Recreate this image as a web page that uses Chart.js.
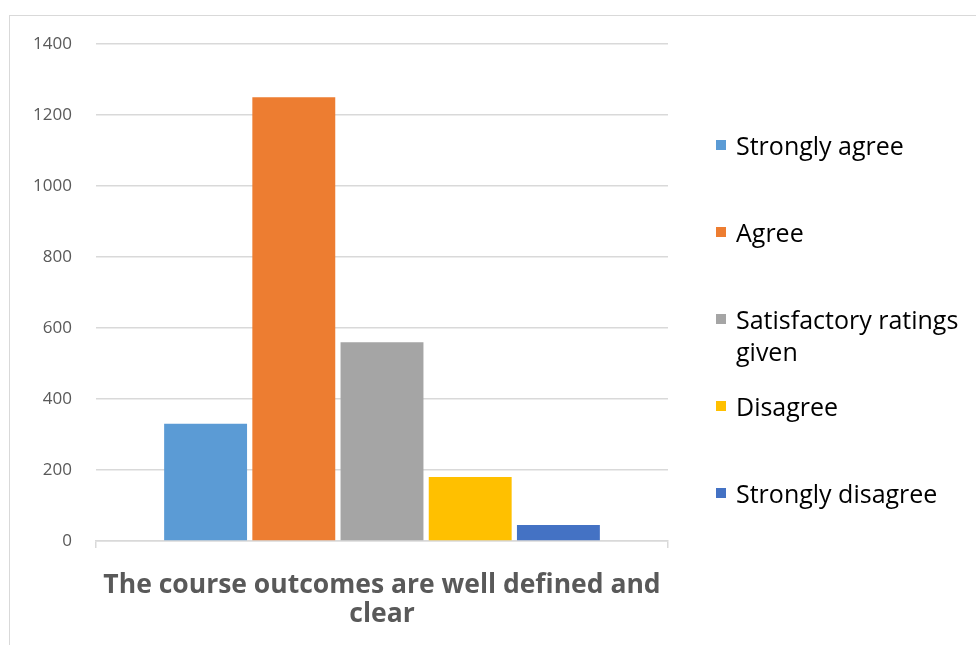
<!DOCTYPE html>
<html>
<head>
<meta charset="utf-8">
<script src="https://cdn.jsdelivr.net/npm/chart.js@4.4.1/dist/chart.umd.min.js"></script>
<style>
  html, body { margin: 0; padding: 0; background: #fff; overflow: hidden; }
  #wrap { position: relative; width: 976px; height: 645px; }
  #frame { position: absolute; left: 9px; top: 15px; width: 1000px; height: 700px; border: 1px solid #d9d9d9; box-sizing: border-box; }
  #canvas { position: absolute; left: 0; top: 0; }
  #legend { position: absolute; left: 716px; top: 129px; font-family: "Open Sans", sans-serif; font-size: 25px; color: #000; }
  .item { position: absolute; left: 0; display: flex; align-items: flex-start; width: 258px; line-height: 32px; }
  .box { width: 10px; height: 10px; margin-top: 11px; margin-right: 10px; flex: none; }
</style>
</head>
<body>
<div id="wrap">
  <div id="frame"></div>
  <canvas id="canvas" width="976" height="645"></canvas>
  <div id="legend"></div>
</div>
<script>
const categories = [["The course outcomes are well defined and", "clear"]];
const seriesNames = ["Strongly agree", "Agree", "Satisfactory ratings given", "Disagree", "Strongly disagree"];
const seriesValues = [330, 1250, 560, 180, 45];
const seriesColors = ["#5B9BD5", "#ED7D31", "#A5A5A5", "#FFC000", "#4472C4"];
const yMax = 1400;
const yStep = 200;

document.addEventListener("DOMContentLoaded", function () {
    const datasets = seriesNames.map((name, i) => ({
        label: name,
        data: [seriesValues[i]],
        backgroundColor: seriesColors[i],
        borderWidth: 0,
        barPercentage: 0.94,
        categoryPercentage: 0.771
    }));

    const ctx = document.getElementById("canvas").getContext("2d");
    new Chart(ctx, {
        type: "bar",
        data: { labels: categories, datasets: datasets },
        options: {
            responsive: false,
            animation: false,
            layout: { padding: { left: 0, top: 44, right: 308, bottom: 0 } },
            plugins: { legend: { display: false }, tooltip: { enabled: false } },
            scales: {
                x: {
                    grid: {
                        color: "#d9d9d9",
                        lineWidth: 1.5,
                        drawOnChartArea: false,
                        drawTicks: true,
                        tickLength: 7,
                        offset: true
                    },
                    border: { color: "#d9d9d9", width: 1.5 },
                    ticks: {
                        color: "#595959",
                        font: { family: "Open Sans", size: 26.5, weight: "bold", lineHeight: 1.13 },
                        padding: 22,
                        maxRotation: 0,
                        minRotation: 0
                    },
                    afterFit: function (scale) { scale.height = 104; }
                },
                y: {
                    min: 0,
                    max: yMax,
                    grid: { color: "#d9d9d9", lineWidth: 1.5, drawTicks: false },
                    border: { display: false },
                    ticks: {
                        stepSize: yStep,
                        color: "#595959",
                        font: { family: "Open Sans", size: 17 },
                        padding: 24,
                        callback: function (value) { return String(value); }
                    },
                    afterFit: function (scale) { scale.width = 96; }
                }
            }
        }
    });

    // legend on the right, built from the same arrays
    const legend = document.getElementById("legend");
    seriesNames.forEach((name, i) => {
        const item = document.createElement("div");
        item.className = "item";
        item.style.top = (i * 87) + "px";
        const box = document.createElement("span");
        box.className = "box";
        box.style.background = seriesColors[i];
        const text = document.createElement("span");
        text.textContent = name;
        item.appendChild(box);
        item.appendChild(text);
        legend.appendChild(item);
    });
});
</script>
</body>
</html>
